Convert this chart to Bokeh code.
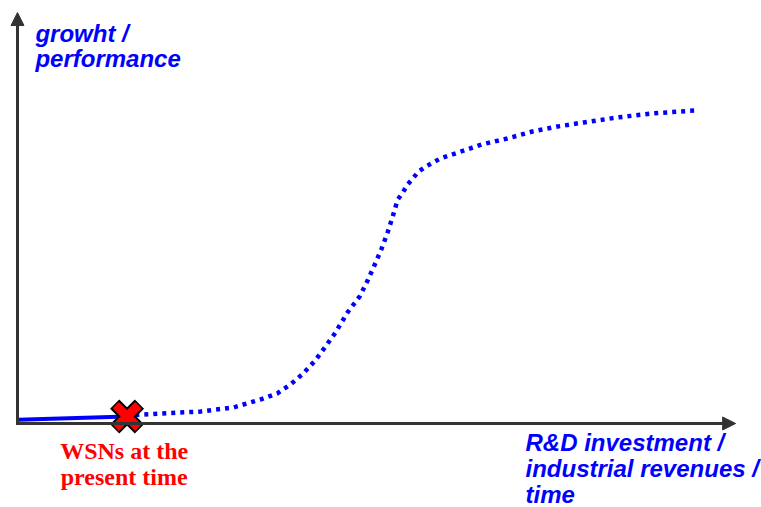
from bokeh.plotting import figure
from bokeh.models import Range1d, Arrow, NormalHead, ColumnDataSource
from bokeh.core.properties import value
from bokeh.embed import file_html
from bokeh.resources import INLINE

# S-curve (dotted, future part) : investment vs growth, abstract units 0..100
curve_x = [15.2, 20.0, 25.6, 30.2, 33.9, 36.3, 38.1, 39.9, 41.6, 43.0, 44.4, 46.1,
           47.8, 48.9, 49.9, 50.8, 51.7, 52.4, 53.1, 53.8, 54.5, 55.2, 56.0, 57.0,
           59.1, 61.5, 64.9, 68.4, 71.9, 75.4, 79.1, 83.8, 88.8, 94.7]
curve_y = [1.9, 2.4, 2.9, 3.9, 5.8, 7.3, 9.4, 12.1, 15.3, 18.6, 22.0, 26.9,
           30.8, 34.6, 38.5, 42.1, 46.3, 50.1, 54.2, 55.9, 57.9, 59.3, 61.0, 62.2,
           64.2, 65.6, 67.6, 69.0, 70.7, 71.9, 72.9, 74.1, 75.1, 75.8]
# solid part (past up to now)
past_x = [0.1, 15.3]
past_y = [0.9, 1.7]
# present-time marker
present_x = [15.3]
present_y = [1.7]

y_label_lines = ["growht /", "performance"]
x_label_lines = ["R&D investment /", "industrial revenues /", "time"]
marker_label_lines = ["WSNs at the", "present time"]

p = figure(width=761, height=507, output_backend="svg", toolbar_location=None,
           x_axis_type=None, y_axis_type=None, min_border=0,
           x_range=Range1d(-2.374, 103.91), y_range=Range1d(-20.34, 102.42))
p.outline_line_color = None
p.background_fill_color = "white"
p.border_fill_color = "white"

axis_color = "#333333"
p.add_layout(Arrow(end=NormalHead(size=13, fill_color=axis_color, line_color=axis_color),
                   x_start=0, y_start=-0.3, x_end=0, y_end=99.5,
                   line_color=axis_color, line_width=3))
p.add_layout(Arrow(end=NormalHead(size=13, fill_color=axis_color, line_color=axis_color),
                   x_start=-0.2, y_start=0, x_end=100.3, y_end=0,
                   line_color=axis_color, line_width=3))

p.line(curve_x, curve_y, line_color="#0000FF", line_width=4.5, line_dash="4 5")
p.line(past_x, past_y, line_color="#0000FF", line_width=4)

p.scatter(present_x, present_y, marker="x", size=35, line_color="black", line_width=13)
p.scatter(present_x, present_y, marker="x", size=32, line_color="#FF0000", line_width=9)

src_y = ColumnDataSource(dict(x=[2.5] * 2, y=[93.1] * 2, t=y_label_lines, off=[-5, 20]))
p.text("x", "y", text="t", y_offset="off", source=src_y,
       text_font=value("Liberation Sans"), text_font_style="bold italic",
       text_font_size="24px", text_color="#0000FF", text_baseline="alphabetic")

src_x = ColumnDataSource(dict(x=[70.95] * 3, y=[-6.5] * 3, t=x_label_lines, off=[-8, 18, 44]))
p.text("x", "y", text="t", y_offset="off", source=src_x,
       text_font=value("Liberation Sans"), text_font_style="bold italic",
       text_font_size="24px", text_color="#0000FF", text_baseline="alphabetic")

src_m = ColumnDataSource(dict(x=[14.9] * 2, y=[-8.47] * 2, t=marker_label_lines, off=[-7, 19]))
p.text("x", "y", text="t", y_offset="off", source=src_m,
       text_font=value("Liberation Serif"), text_font_style="bold",
       text_font_size="24px", text_color="#FF0000", text_baseline="alphabetic",
       text_align="center")

open("out.html", "w").write(file_html(p, INLINE))
